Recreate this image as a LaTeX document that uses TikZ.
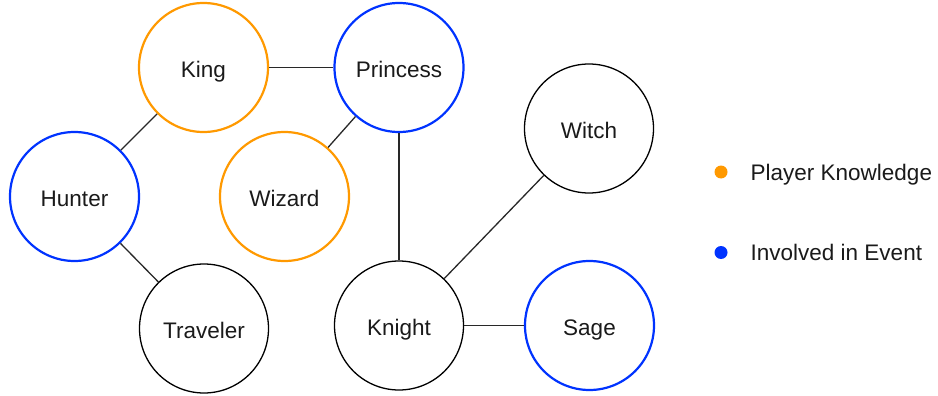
\documentclass[tikz,border=0pt]{standalone}
\usepackage{fontspec}
\setmainfont{Liberation Sans}
\definecolor{korange}{RGB}{255,153,0}
\definecolor{kblue}{RGB}{0,51,255}
\definecolor{ktext}{RGB}{26,26,26}
\definecolor{kline}{RGB}{40,40,40}
\begin{document}
\begin{tikzpicture}[x=1pt,y=-1pt,
  person/.style={circle,minimum size=129pt,inner sep=0pt,line width=1.3pt,draw=black,
    font=\fontsize{22.5}{26}\selectfont,text=ktext,text height=19.8pt,text depth=0pt},
  pk/.style={person,draw=korange,line width=2.2pt},
  ev/.style={person,draw=kblue,line width=2.2pt},
  link/.style={draw=kline,line width=1.3pt},
  dot/.style={circle,minimum size=13pt,inner sep=0pt},
  legtext/.style={anchor=west,font=\fontsize{22.5}{26}\selectfont,text=ktext,inner sep=0pt,
    text height=16.1pt,text depth=0pt}]
\useasboundingbox (0,0) rectangle (938,396);
\node[pk] (king) at (203.5,67.5) {King};
\node[ev] (princess) at (399,67.5) {Princess};
\node[ev] (hunter) at (74.5,196.5) {Hunter};
\node[pk] (wizard) at (284.5,196.5) {Wizard};
\node[person] (witch) at (589,128.5) {Witch};
\node[person] (traveler) at (204,328.5) {Traveler};
\node[person] (knight) at (399,325.5) {Knight};
\node[ev] (sage) at (589.5,325.5) {Sage};
\draw[link] (king) -- (princess);
\draw[link] (king) -- (hunter);
\draw[link] (princess) -- (wizard);
\draw[link] (princess) -- (knight);
\draw[link] (hunter) -- (traveler);
\draw[link] (knight) -- (witch);
\draw[link] (knight) -- (sage);
\node[dot,fill=korange] (d1) at (721,172) {};
\node[legtext] (l1) at (750.5,172.5) {Player Knowledge};
\node[dot,fill=kblue] (d2) at (721,252.5) {};
\node[legtext] (l2) at (750.5,252.5) {Involved in Event};
\end{tikzpicture}
\end{document}
